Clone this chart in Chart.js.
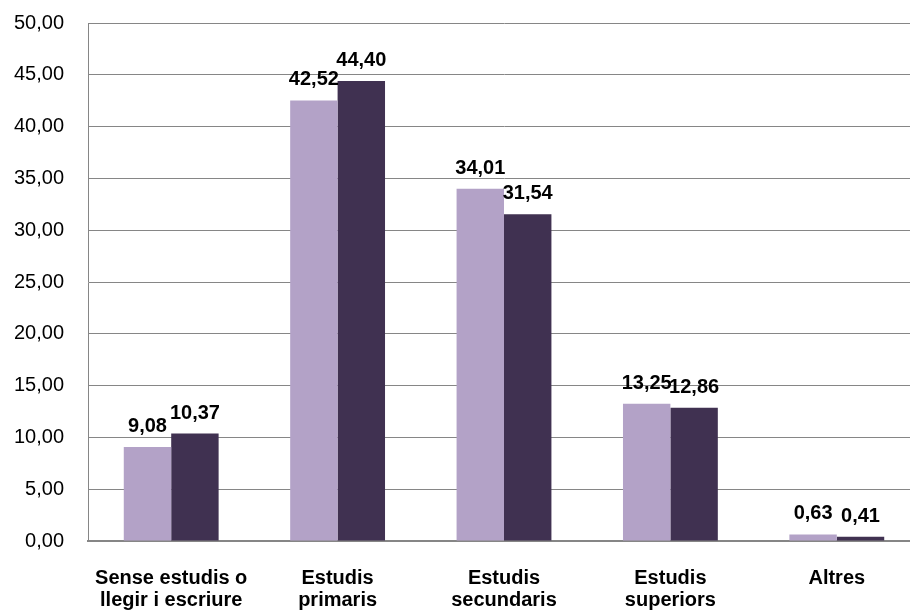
<!DOCTYPE html>
<html>
<head>
<meta charset="utf-8">
<script src="https://cdn.jsdelivr.net/npm/chart.js@4.4.1/dist/chart.umd.min.js"></script>
<style>
  body { margin: 0; background: #fff; overflow: hidden; }
  #wrap { width: 910px; height: 610px; overflow: hidden; }
</style>
</head>
<body>
<!-- plot runs past the right edge of the picture, so the canvas is a bit wider -->
<div id="wrap"><canvas id="chart" width="920" height="610"></canvas></div>
<script>
const categories = [
    ['Sense estudis o', 'llegir i escriure'],
    ['Estudis', 'primaris'],
    ['Estudis', 'secundaris'],
    ['Estudis', 'superiors'],
    'Altres'
];
const seriesA = [9.08, 42.52, 34.01, 13.25, 0.63];
const seriesB = [10.37, 44.40, 31.54, 12.86, 0.41];
const yMin = 0, yMax = 50, yStep = 5;

function fmt(v) {
    return v.toFixed(2).replace('.', ',');
}

// draws value labels above each bar
const valueLabels = {
    id: 'valueLabels',
    afterDatasetsDraw(chart) {
        const ctx = chart.ctx;
        ctx.save();
        ctx.font = 'bold 20px "Liberation Sans", Arial, sans-serif';
        ctx.fillStyle = '#000';
        ctx.textAlign = 'center';
        ctx.textBaseline = 'alphabetic';
        chart.data.datasets.forEach((ds, i) => {
            chart.getDatasetMeta(i).data.forEach((bar, j) => {
                ctx.fillText(fmt(ds.data[j]), bar.x, bar.y - 15);
            });
        });
        ctx.restore();
    }
};

new Chart(document.getElementById('chart'), {
    type: 'bar',
    data: {
        labels: categories,
        datasets: [{
            label: 'A',
            data: seriesA,
            backgroundColor: '#B3A2C7',
            categoryPercentage: 0.57,
            barPercentage: 1
        }, {
            label: 'B',
            data: seriesB,
            backgroundColor: '#403151',
            categoryPercentage: 0.57,
            barPercentage: 1
        }]
    },
    options: {
        responsive: false,
        animation: false,
        layout: { padding: { top: 23, right: 0, left: 0, bottom: 0 } },
        plugins: {
            legend: { display: false },
            tooltip: { enabled: false }
        },
        scales: {
            x: {
                grid: { display: false, drawTicks: false },
                border: { color: '#868686', width: 2 },
                ticks: {
                    color: '#000',
                    padding: 26,
                    maxRotation: 0,
                    font: { family: '"Liberation Sans", Arial, sans-serif', size: 20, weight: 'bold', lineHeight: 1.1 }
                },
                afterFit(axis) { axis.height = 69; }
            },
            y: {
                min: yMin,
                max: yMax,
                grid: { color: '#868686', drawTicks: false, lineWidth: 1 },
                border: { color: '#868686', width: 1 },
                ticks: {
                    stepSize: yStep,
                    color: '#000',
                    padding: 24,
                    font: { family: '"Liberation Sans", Arial, sans-serif', size: 20 },
                    callback: v => fmt(v)
                },
                afterFit(axis) {
                    axis.width = 88;
                    axis.paddingTop = 0;
                    axis.paddingBottom = 0;
                }
            }
        }
    },
    plugins: [valueLabels]
});
</script>
</body>
</html>
